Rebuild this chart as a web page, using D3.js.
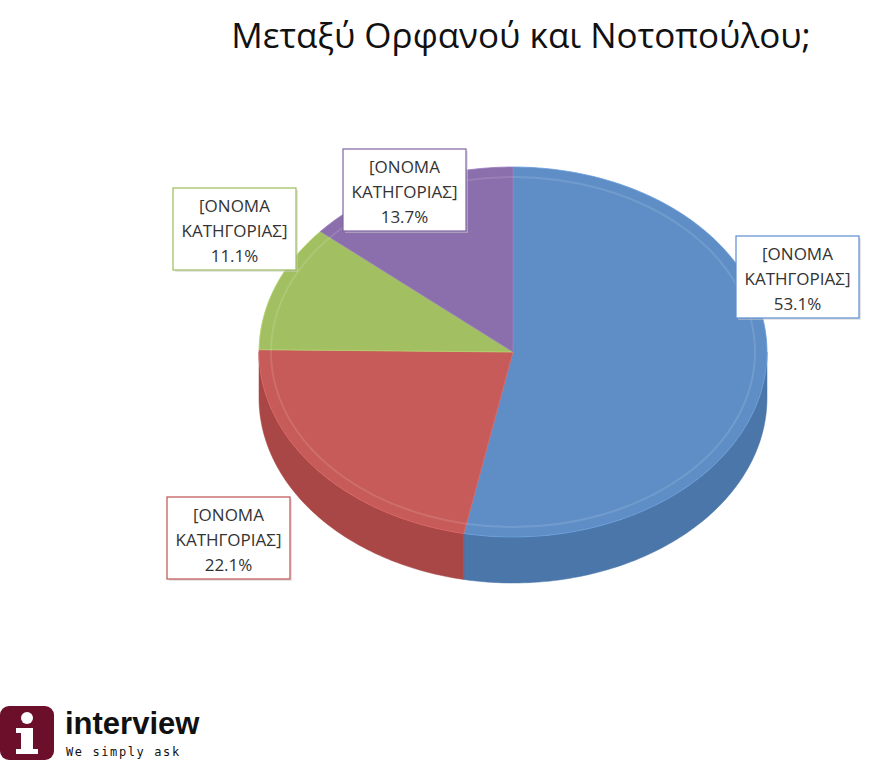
<!DOCTYPE html>
<html><head><meta charset="utf-8">
<script src="https://cdn.jsdelivr.net/npm/d3@7"></script>
<style>body{margin:0;background:#fff}</style></head>
<body><svg id="c" width="880" height="760"></svg>
<script>
const categories = ["[ΟΝΟΜΑ ΚΑΤΗΓΟΡΙΑΣ]","[ΟΝΟΜΑ ΚΑΤΗΓΟΡΙΑΣ]","[ΟΝΟΜΑ ΚΑΤΗΓΟΡΙΑΣ]","[ΟΝΟΜΑ ΚΑΤΗΓΟΡΙΑΣ]"];
const values = [53.1, 22.1, 11.1, 13.7];
const topColors = ["#5f8ec6","#c65b59","#a2c062","#8a6fac"];
const sideColors = ["#4a76aa","#a84745","#86a24c","#6f5690"];
const borderColors = ["#5b8cd0","#c0504d","#9bbb59","#8064a2"];
const labelBoxes = [[736,236],[167,497],[173,188],[343,149]];
const title = "Μεταξύ Ορφανού και Νοτοπούλου;";

const svg = d3.select("#c");
svg.append("text").attr("x",521).attr("y",48).attr("text-anchor","middle")
  .attr("font-family","Open Sans, sans-serif").attr("font-size",35).attr("fill","#111").text(title);

const cx=513, cy=352, rx=254, ry=185, depth=46;
const pie = d3.pie().sort(null).value(d=>d)(values);
const pt=(a,dy=0)=>[cx+rx*Math.sin(a), cy-ry*Math.cos(a)+dy];
function arcPts(a0,a1,dy){const n=Math.max(2,Math.ceil((a1-a0)/0.02));return d3.range(n+1).map(i=>pt(a0+(a1-a0)*i/n,dy));}
const g=svg.append("g");
pie.forEach((s,i)=>{
  const a0=Math.max(s.startAngle,Math.PI/2), a1=Math.min(s.endAngle,3*Math.PI/2);
  if(a1<=a0) return;
  const p=arcPts(a0,a1,0).concat(arcPts(a0,a1,depth).reverse());
  g.append("path").attr("d","M"+p.join("L")+"Z").attr("fill",sideColors[i]).attr("stroke",sideColors[i]).attr("stroke-width",0.5);
});
pie.forEach((s,i)=>{
  const p=[[cx,cy]].concat(arcPts(s.startAngle,s.endAngle,0));
  g.append("path").attr("d","M"+p.join("L")+"Z").attr("fill",topColors[i]).attr("stroke",d3.color(topColors[i]).brighter(0.3)).attr("stroke-width",0.8);
});
g.append("ellipse").attr("cx",cx).attr("cy",cy).attr("rx",rx-12).attr("ry",ry-10).attr("fill","none").attr("stroke","#fff").attr("stroke-opacity",0.12).attr("stroke-width",2);

pie.forEach((s,i)=>{
  const [x,y]=labelBoxes[i];
  const lg=svg.append("g").attr("transform",`translate(${x},${y})`);
  lg.append("rect").attr("x",2).attr("y",2).attr("width",123).attr("height",82).attr("fill","#ccc").attr("opacity",0.5);
  lg.append("rect").attr("width",123).attr("height",82).attr("fill","#fff").attr("stroke",borderColors[i]).attr("stroke-width",1.2);
  const parts=categories[i].split(" ");
  [parts[0],parts[1],values[i].toFixed(1)+"%"].forEach((t,j)=>
    lg.append("text").attr("x",61.5).attr("y",24+j*25).attr("text-anchor","middle")
      .attr("font-family","Open Sans, sans-serif").attr("font-size",17).attr("fill","#333").text(t));
});

const lo=svg.append("g");
lo.append("rect").attr("x",0).attr("y",706).attr("width",54).attr("height",54).attr("rx",9).attr("fill","#6b0f2a");
lo.append("circle").attr("cx",27).attr("cy",718).attr("r",6).attr("fill","#fff");
lo.append("rect").attr("x",21).attr("y",728).attr("width",12).attr("height",26).attr("fill","#fff");
lo.append("rect").attr("x",16).attr("y",728).attr("width",17).attr("height",5).attr("fill","#fff");
lo.append("rect").attr("x",16).attr("y",749).attr("width",22).attr("height",5).attr("fill","#fff");
lo.append("text").attr("x",65).attr("y",734).attr("font-family","Liberation Sans, Arial, sans-serif").attr("font-weight","bold").attr("font-size",31).attr("fill","#111").text("interview");
lo.append("text").attr("x",66).attr("y",756).attr("font-family","DejaVu Sans Mono, monospace").attr("font-size",12).attr("letter-spacing",1.6).attr("fill","#111").text("We simply ask");
</script></body></html>
